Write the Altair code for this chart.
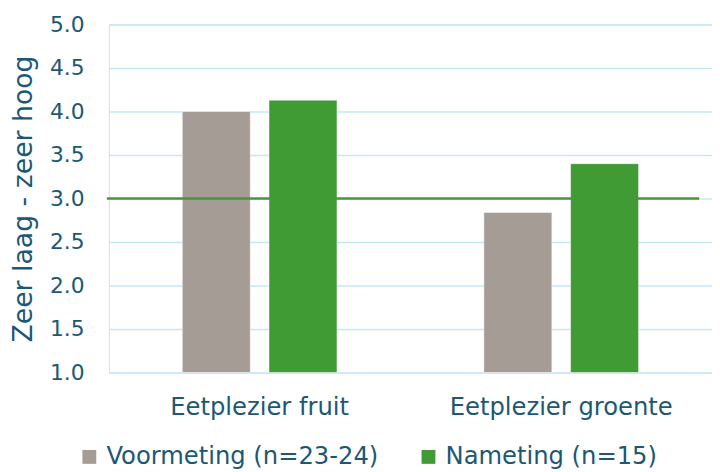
import altair as alt
import pandas as pd

categories = ["Eetplezier fruit", "Eetplezier fruit", "Eetplezier groente", "Eetplezier groente"]
series = ["Voormeting (n=23-24)", "Nameting (n=15)", "Voormeting (n=23-24)", "Nameting (n=15)"]
values = [4.0, 4.13, 2.84, 3.40]
series_order = ["Voormeting (n=23-24)", "Nameting (n=15)"]
series_colors = ["#A59C95", "#409B35"]
reference_value = 3.0
y_ticks = [1.0, 1.5, 2.0, 2.5, 3.0, 3.5, 4.0, 4.5, 5.0]

df = pd.DataFrame({"cat": categories, "series": series, "value": values})

text_color = "#1B5875"
font = "DejaVu Sans"

x_enc = alt.X("cat:N", title=None,
              scale=alt.Scale(paddingInner=0.487, paddingOuter=0.2435),
              axis=alt.Axis(labelAngle=0, labelFontSize=24.5, labelColor=text_color,
                            labelFont=font, labelPadding=23, ticks=False, domain=False,
                            grid=False, labelLimit=0))
y_scale = alt.Scale(domain=[1, 5], zero=False, nice=False)

bars = alt.Chart(df).mark_bar(stroke="#FFFFFF", strokeOpacity=0.5, strokeWidth=1).encode(
    x=x_enc,
    xOffset=alt.XOffset("series:N", sort=series_order,
                        scale=alt.Scale(domain=series_order, paddingInner=0.216)),
    y=alt.Y("value:Q", scale=y_scale, title="Zeer laag - zeer hoog",
            axis=alt.Axis(values=y_ticks, format=".1f", labelFontSize=22,
                          labelColor=text_color, labelFont=font, labelPadding=25,
                          ticks=False, domain=False, gridColor="#C2E8F8",
                          gridWidth=1.5, titleFontSize=27, titleFont=font,
                          titleColor=text_color, titleFontWeight="normal",
                          titlePadding=12)),
    y2=alt.datum(1),
    color=alt.Color("series:N", sort=series_order,
                    scale=alt.Scale(domain=series_order, range=series_colors),
                    legend=alt.Legend(title=None, orient="none", direction="horizontal",
                                      legendX=-32, legendY=72 + 352 + 1,
                                      symbolType="square", symbolSize=196,
                                      symbolStrokeWidth=0,
                                      labelFontSize=24.5, labelColor=text_color,
                                      labelFont=font, columnPadding=38,
                                      labelOffset=5, labelLimit=0)),
)

ref = alt.Chart(pd.DataFrame({"ref": [reference_value]})).mark_rule(
    color="#409B35", strokeWidth=2.5).encode(
    y=alt.Y("ref:Q", scale=y_scale),
    x=alt.value(-2),
    x2=alt.value(597),
)

chart = alt.layer(bars, ref).properties(
    width=610, height=352,
    autosize=alt.AutoSizeParams(type="none"),
    padding={"left": 102, "top": 14, "right": 0, "bottom": 98},
).configure_view(stroke=None).configure(background="white")

chart.save("out.html", embed_options={"renderer": "svg", "actions": False})
